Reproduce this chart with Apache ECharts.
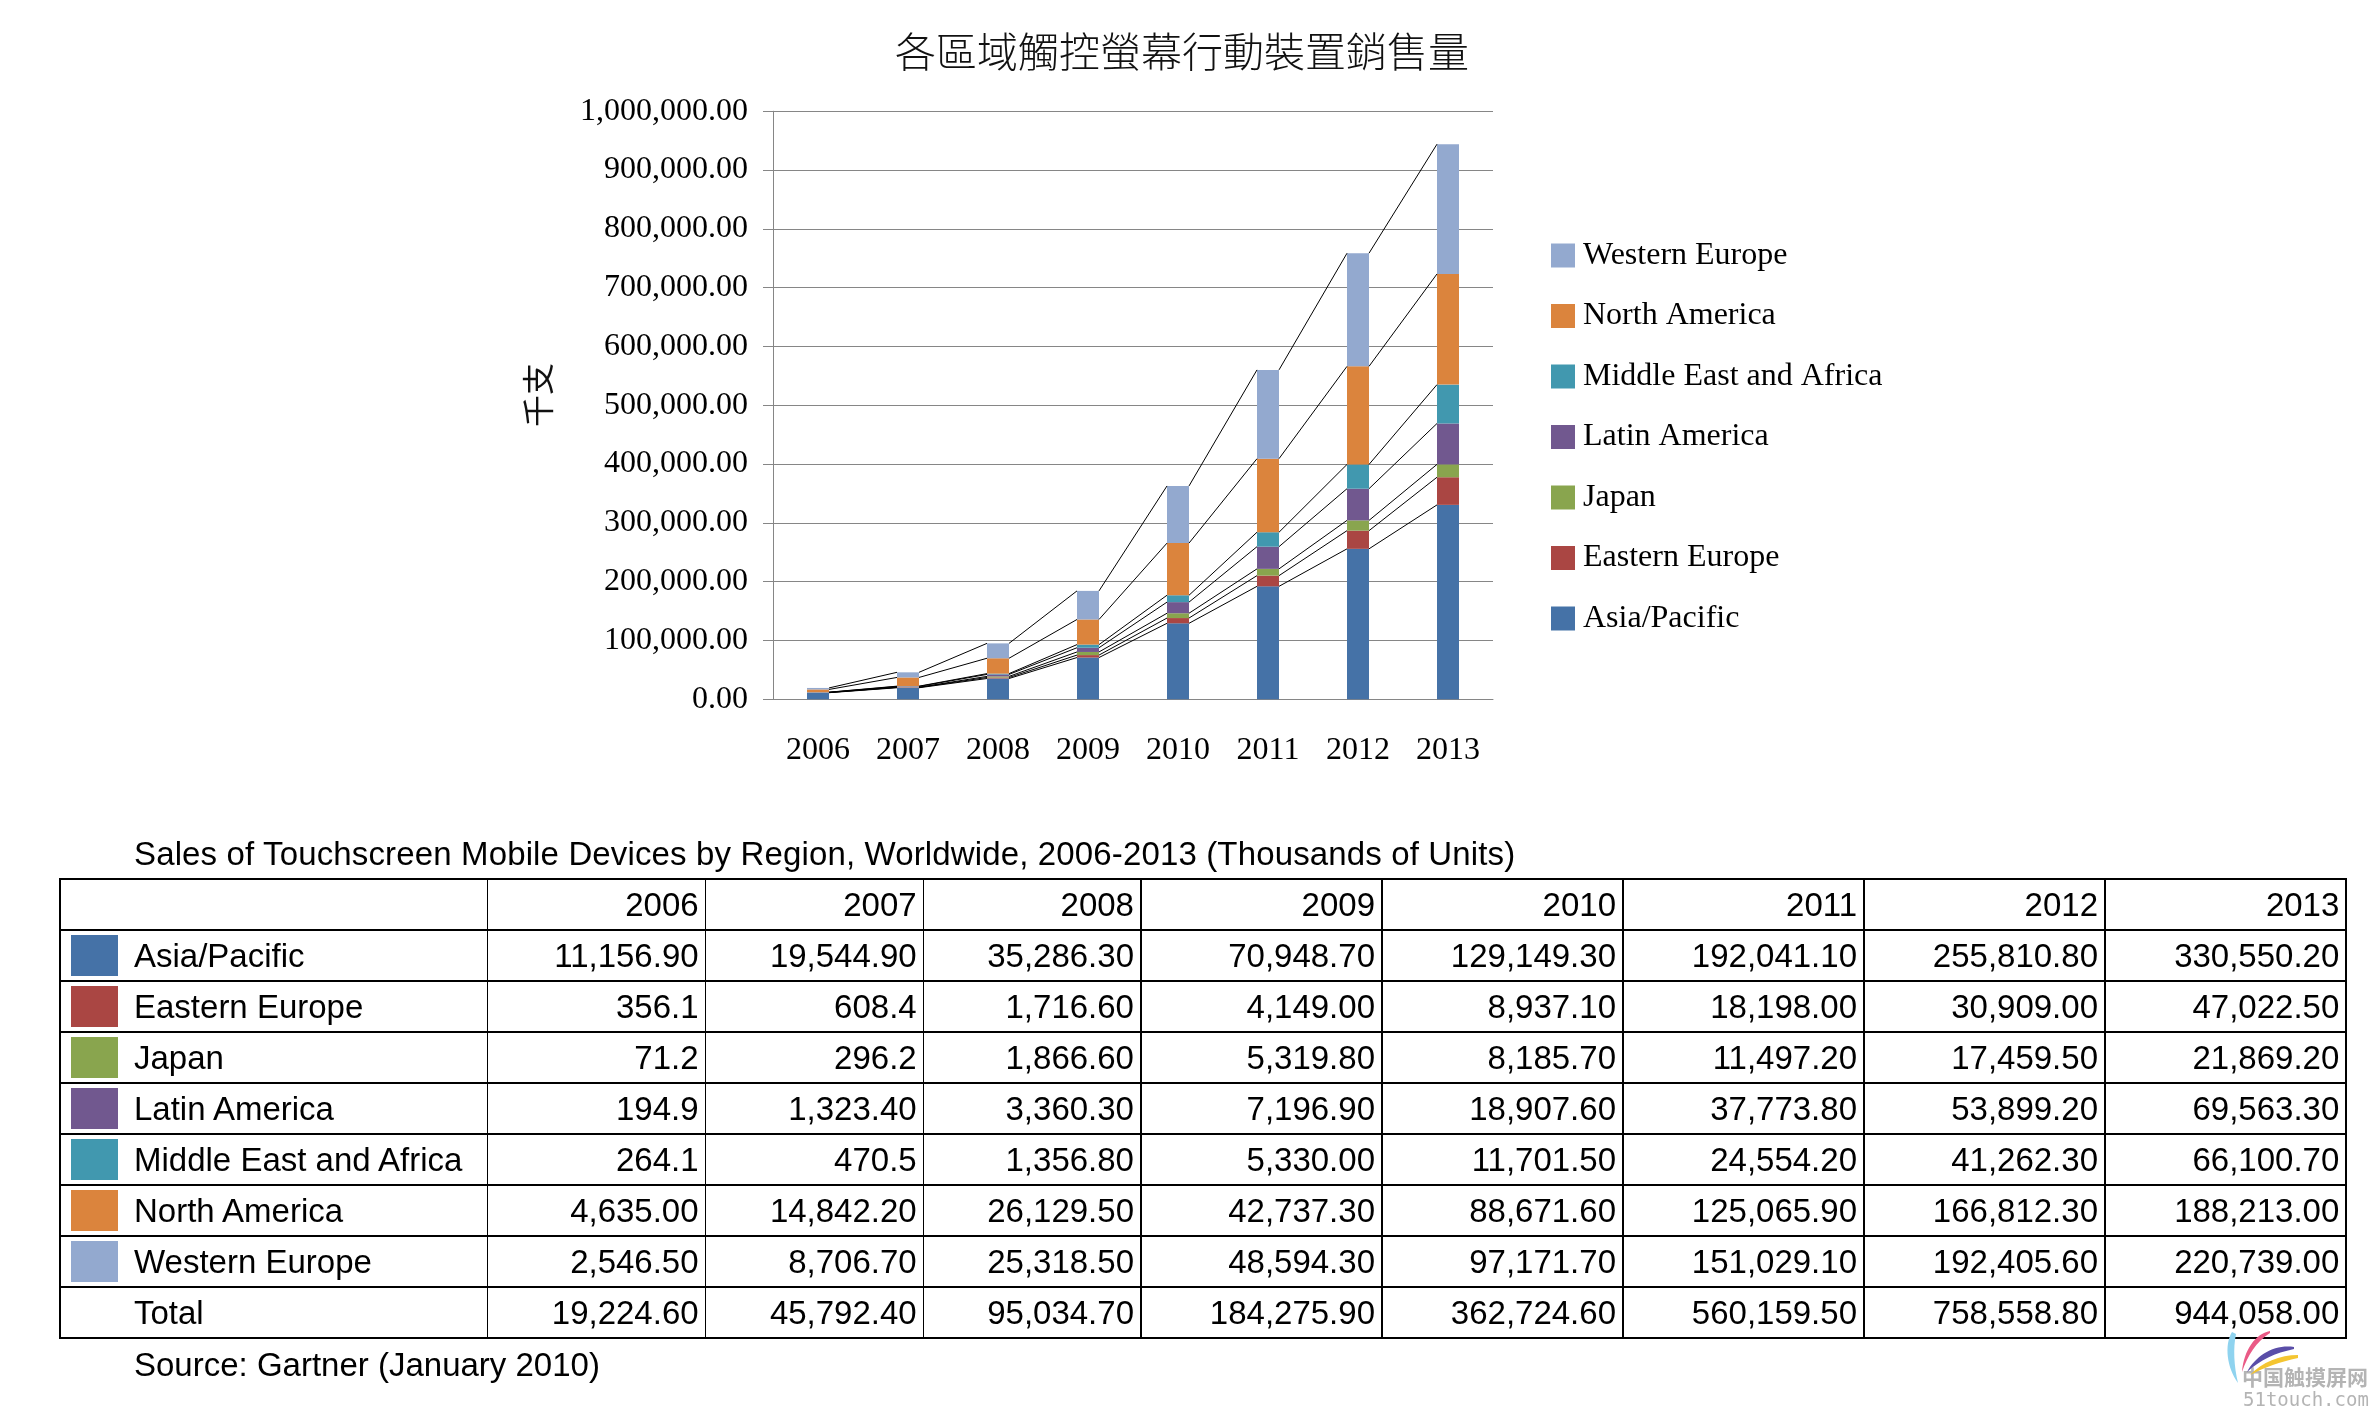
<!DOCTYPE html>
<html><head><meta charset="utf-8">
<script src="https://cdn.jsdelivr.net/npm/echarts/dist/echarts.min.js"></script>
<style>
html,body{margin:0;padding:0;background:#fff;}
#wrap{position:relative;width:2379px;height:1413px;overflow:hidden;background:#fff;}
#chart{position:absolute;left:0;top:0;width:2379px;height:1413px;}
.t{position:absolute;font-family:"Liberation Sans",Arial,sans-serif;font-size:33px;color:#000;white-space:nowrap;line-height:33px;}
.cell{position:absolute;display:flex;align-items:center;font-family:"Liberation Sans",Arial,sans-serif;font-size:33px;color:#000;white-space:nowrap;}
.ln{position:absolute;background:#000;}
#wm{position:absolute;left:2220px;top:1325px;}
</style></head><body>
<div id="wrap"><div id="chart"></div><div id="table"></div>
<svg id="wm" width="90" height="60" viewBox="2220 1325 90 60">
  <path d="M2232,1332 C2224,1345 2227,1368 2238,1383 C2234,1366 2233,1348 2236,1334 Z" fill="#8fd3ef"/>
  <path d="M2270,1331 C2255,1334 2244,1350 2242,1372 C2248,1355 2256,1342 2270,1333 Z" fill="#ea5a86"/>
  <path d="M2294,1347 C2275,1344 2256,1355 2247,1372 C2260,1360 2275,1353 2294,1349 Z" fill="#5a4ea8"/>
  <path d="M2298,1355 C2280,1355 2262,1362 2250,1375 C2265,1367 2280,1362 2298,1358 Z" fill="#f4c531"/>
</svg>
</div>
<script>
// ---------------- data ----------------
const YEARS = ['2006','2007','2008','2009','2010','2011','2012','2013'];
const REGIONS = ['Asia/Pacific','Eastern Europe','Japan','Latin America','Middle East and Africa','North America','Western Europe'];
const COLORS = ['#4572A7','#AA4643','#89A54E','#71588F','#4198AF','#DB843D','#93A9CF'];
const asiaPacific    = [11156.9, 19544.9, 35286.3, 70948.7, 129149.3, 192041.1, 255810.8, 330550.2];
const easternEurope  = [356.1, 608.4, 1716.6, 4149.0, 8937.1, 18198.0, 30909.0, 47022.5];
const japan          = [71.2, 296.2, 1866.6, 5319.8, 8185.7, 11497.2, 17459.5, 21869.2];
const latinAmerica   = [194.9, 1323.4, 3360.3, 7196.9, 18907.6, 37773.8, 53899.2, 69563.3];
const middleEastAfrica = [264.1, 470.5, 1356.8, 5330.0, 11701.5, 24554.2, 41262.3, 66100.7];
const northAmerica   = [4635.0, 14842.2, 26129.5, 42737.3, 88671.6, 125065.9, 166812.3, 188213.0];
const westernEurope  = [2546.5, 8706.7, 25318.5, 48594.3, 97171.7, 151029.1, 192405.6, 220739.0];
const TOTALS         = [19224.6, 45792.4, 95034.7, 184275.9, 362724.6, 560159.5, 758558.8, 944058.0];
const SERIES = [asiaPacific, easternEurope, japan, latinAmerica, middleEastAfrica, northAmerica, westernEurope];
const Y_MIN = 0, Y_MAX = 1000000, Y_STEP = 100000;
const TITLE = '各區域觸控螢幕行動裝置銷售量';
const Y_NAME = '千支';
const TABLE_TITLE = 'Sales of Touchscreen Mobile Devices by Region, Worldwide, 2006-2013 (Thousands of Units)';
const SOURCE = 'Source: Gartner (January 2010)';

// ---------------- helpers ----------------
function commas(s){ return s.replace(/\B(?=(\d{3})+(?!\d))/g, ','); }
function fmt2(v){ const p = v.toFixed(2).split('.'); return commas(p[0]) + '.' + p[1]; }
function fmtCell(v){ return v < 1000 ? v.toFixed(1) : fmt2(v); }

const BAR_W = 22;
const SERIF = '"Liberation Serif","Times New Roman",serif';

// cumulative tops for series lines
const cum = [];
SERIES.forEach((arr, si) => {
  cum.push(arr.map((v, i) => (si ? cum[si-1][i] : 0) + v));
});
const lineData = [];
cum.forEach(c => { for (let i = 0; i < c.length - 1; i++) lineData.push([i, c[i], i + 1, c[i + 1]]); });

const chart = echarts.init(document.getElementById('chart'), null, {renderer: 'canvas'});
const series = REGIONS.map((name, si) => ({
  name, type: 'bar', stack: 'total', barWidth: BAR_W, data: SERIES[si],
  itemStyle: {color: COLORS[si]}, animation: false
}));
series.push({
  type: 'custom', data: lineData, z: 5, silent: true, animation: false,
  encode: {x: 0, y: 1},
  renderItem(params, api) {
    const p1 = api.coord([api.value(0), api.value(1)]);
    const p2 = api.coord([api.value(2), api.value(3)]);
    return {type: 'line', shape: {x1: p1[0] + BAR_W / 2, y1: p1[1], x2: p2[0] - BAR_W / 2, y2: p2[1]},
      style: {stroke: '#000', lineWidth: 1}};
  }
});

chart.setOption({
  backgroundColor: '#fff',
  animation: false,
  title: {text: TITLE, left: 1177, top: 26, textAlign: 'center',
    textStyle: {fontFamily: '"Noto Sans CJK TC","Noto Sans CJK SC",sans-serif', fontSize: 41, fontWeight: 300, color: '#111'}},
  legend: {
    orient: 'vertical', left: 1546, top: 234.5, itemWidth: 24, itemHeight: 24, itemGap: 28.5,
    icon: 'rect', data: REGIONS.slice().reverse(),
    textStyle: {fontFamily: SERIF, fontSize: 32, lineHeight: 32, color: '#000', padding: [0, 0, 0, 3]}
  },
  grid: {left: 773, top: 111.25, width: 720, height: 588, containLabel: false},
  xAxis: {
    type: 'category', data: YEARS,
    axisLine: {lineStyle: {color: '#868686', width: 1}},
    axisTick: {show: false},
    axisLabel: {fontFamily: SERIF, fontSize: 32, color: '#000', margin: 35}
  },
  yAxis: {
    type: 'value', min: Y_MIN, max: Y_MAX, interval: Y_STEP,
    axisLine: {show: true, lineStyle: {color: '#868686', width: 1}},
    axisTick: {show: true, length: 10, lineStyle: {color: '#868686'}},
    splitLine: {lineStyle: {color: '#868686', width: 1}},
    axisLabel: {fontFamily: SERIF, fontSize: 32, color: '#000', margin: 25, formatter: v => fmt2(v)}
  },
  graphic: [{
    type: 'text', x: 538, y: 395, rotation: Math.PI / 2,
    style: {text: Y_NAME, font: '32px "Noto Sans CJK TC",sans-serif', fill: '#111', align: 'center', verticalAlign: 'middle'}
  }],
  series
});

// ---------------- data table (HTML) ----------------
const tbl = document.getElementById('table');
const COL = [59.7, 487.5, 705.6, 923.7, 1141, 1382, 1623, 1864, 2105, 2346.3];
const TOP = 879.3, RH = 50.97, NROWS = REGIONS.length + 2;
function add(cls, css, text){ const d = document.createElement('div'); d.className = cls; Object.assign(d.style, css); if (text !== undefined) d.textContent = text; tbl.appendChild(d); return d; }

add('t', {left: '134px', top: '837px', letterSpacing: '0.14px'}, TABLE_TITLE);
add('t', {left: '134px', top: '1348px'}, SOURCE);

const rows = [{label: '', vals: YEARS, color: null}];
REGIONS.forEach((r, i) => rows.push({label: r, vals: SERIES[i].map(fmtCell), color: COLORS[i]}));
rows.push({label: 'Total', vals: TOTALS.map(fmt2), color: null});

rows.forEach((row, r) => {
  const y = TOP + r * RH;
  if (row.color) add('ln', {left: '71px', top: (y + 4.5) + 'px', width: '47px', height: '41px', background: row.color});
  if (row.label) add('cell', {left: '134px', top: y + 'px', height: RH + 'px'}, row.label);
  row.vals.forEach((v, c) => {
    add('cell', {left: COL[c + 1] + 'px', top: y + 'px', height: RH + 'px', width: (COL[c + 2] - COL[c + 1] - 7) + 'px', justifyContent: 'flex-end'}, v);
  });
});
for (let r = 0; r <= NROWS; r++) {
  add('ln', {left: COL[0] + 'px', top: (TOP + r * RH - 1) + 'px', width: (COL[COL.length - 1] - COL[0] + 1) + 'px', height: '2px'});
}
COL.forEach((x, i) => {
  const w = (i === 0 || i === COL.length - 1) ? 2 : 1.3;
  add('ln', {left: (x - w / 2) + 'px', top: (TOP - 1) + 'px', width: w + 'px', height: (NROWS * RH + 2) + 'px'});
});

// watermark text
add('t', {left: '2242px', top: '1365px', fontFamily: '"Noto Sans CJK SC",sans-serif', fontSize: '21px', lineHeight: '22px', color: '#b4b4b4', fontWeight: 'bold'}, '中国触摸屏网');
add('t', {left: '2243px', top: '1389px', fontFamily: '"DejaVu Sans Mono",monospace', fontSize: '19px', lineHeight: '20px', color: '#b4b4b4'}, '51touch.com');
</script>
</body></html>
